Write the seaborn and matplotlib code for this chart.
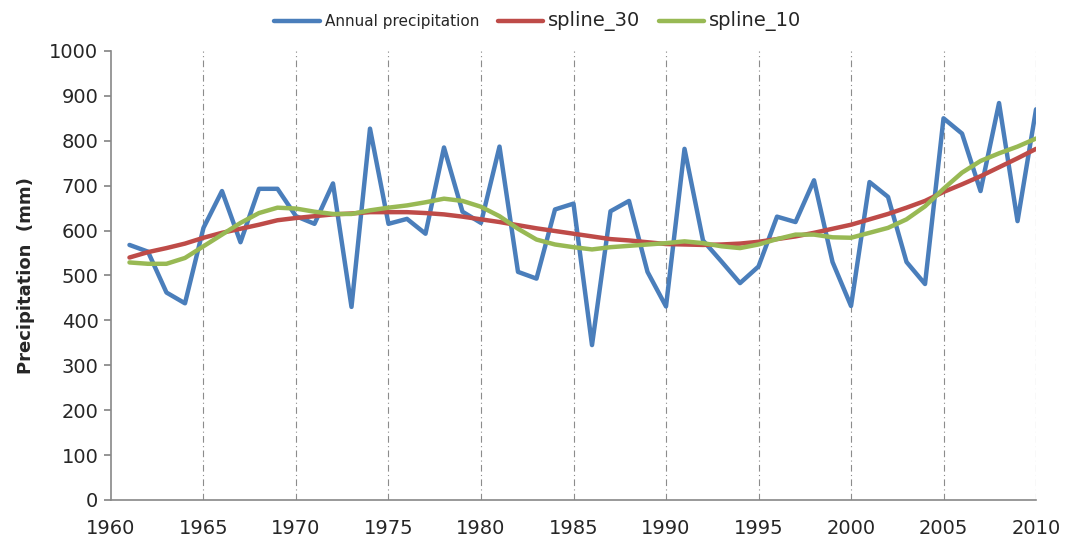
import matplotlib
matplotlib.use("Agg")
import matplotlib.pyplot as plt
import seaborn as sns
import pandas as pd
import numpy as np

years = list(range(1961, 2011))
annual = [568, 553, 462, 438, 606, 688, 574, 693, 693, 632,
          615, 705, 430, 827, 615, 626, 593, 785, 642, 617,
          787, 508, 493, 647, 660, 345, 643, 666, 508, 431,
          782, 578, 531, 483, 520, 631, 619, 712, 530, 432,
          708, 675, 530, 481, 850, 816, 688, 884, 621, 870]
spline_30 = [540, 552, 561, 571, 584, 595, 604, 613, 623, 628,
             632, 636, 638, 641, 641, 641, 639, 636, 631, 625,
             619, 612, 605, 599, 593, 587, 581, 578, 574, 570,
             569, 568, 569, 571, 575, 581, 587, 595, 604, 613,
             625, 637, 651, 666, 686, 703, 721, 741, 761, 782]
spline_10 = [529, 526, 526, 539, 565, 591, 617, 639, 651, 649,
             642, 637, 637, 645, 651, 656, 663, 671, 666, 653,
             632, 604, 580, 569, 563, 558, 563, 566, 569, 572,
             576, 572, 565, 561, 569, 581, 591, 591, 585, 584,
             595, 606, 625, 654, 693, 729, 755, 772, 787, 805]
series_names = ["Annual precipitation", "spline_30", "spline_10"]
colors = ["#4A7EBB", "#BE4B48", "#98B954"]

sns.set_theme(style="white")
plt.rcParams['font.family'] = ['Liberation Sans Narrow', 'DejaVu Sans']

fig = plt.figure(figsize=(10.65, 5.42), dpi=100)
ax = fig.add_axes([0.1042, 0.0775, 0.8686, 0.8285])

df = pd.DataFrame({"Year": years * 3,
                   "Value": annual + spline_30 + spline_10,
                   "Series": [series_names[0]] * 50 + [series_names[1]] * 50 + [series_names[2]] * 50})
sns.lineplot(data=df, x="Year", y="Value", hue="Series", palette=colors,
             linewidth=3.2, ax=ax, legend=False, sort=False)

ax.set_xlim(1960, 2010)
ax.set_ylim(0, 1000)
ax.set_xticks(range(1960, 2011, 5))
ax.set_yticks(range(0, 1001, 100))
for x in range(1965, 2011, 5):
    ax.axvline(x, color="#8C8C8C", lw=0.8, ls=(0, (6, 3, 1, 3)), zorder=0)

for s in ["top", "right"]:
    ax.spines[s].set_visible(False)
for s in ["left", "bottom"]:
    ax.spines[s].set_color("#888888")
    ax.spines[s].set_linewidth(1.2)
ax.tick_params(axis="y", which="both", left=True, length=5, color="#888888", labelsize=14, pad=4)
ax.tick_params(axis="x", bottom=False, labelsize=14, pad=8)
ax.set_xlabel("")
ax.set_ylabel("Precipitation  (mm)", fontsize=13, fontweight="bold", family=["DejaVu Sans"], labelpad=10)

from matplotlib.lines import Line2D
handles = [Line2D([0], [0], color=c, lw=3.2) for c in colors]
leg = fig.legend(handles, series_names, loc="upper center", bbox_to_anchor=(0.505, 1.005),
                 ncol=3, frameon=False, handlelength=3.0, columnspacing=1.2, handletextpad=0.3)
texts = leg.get_texts()
texts[0].set_fontsize(11)
texts[1].set_fontsize(14)
texts[2].set_fontsize(14)

fig.savefig("out.png", dpi=100)
